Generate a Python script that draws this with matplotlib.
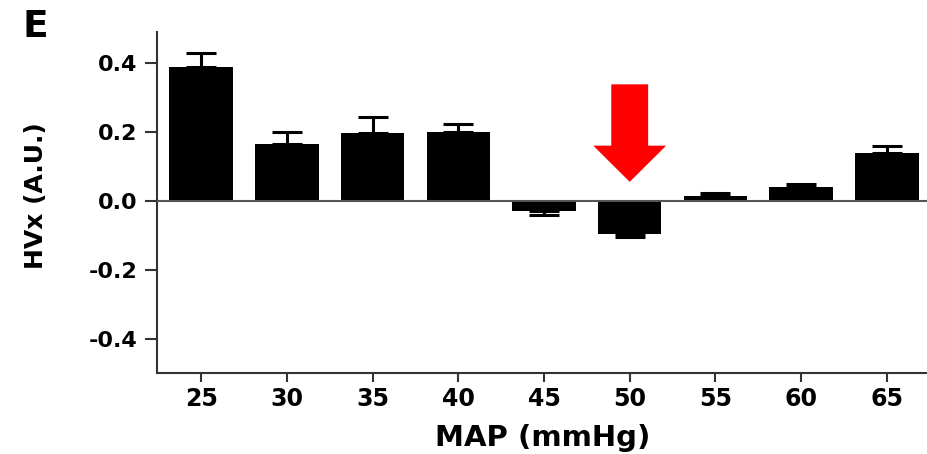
import numpy as np
import matplotlib.pyplot as plt

# Values
map_levels = ['25', '30', '35', '40', '45', '50', '55', '60', '65']
hvx_mean = [0.388, 0.164, 0.198, 0.201, -0.029, -0.097, 0.013, 0.041, 0.140]
hvx_err = [0.040, 0.035, 0.044, 0.022, 0.012, 0.009, 0.009, 0.009, 0.018]
arrow_level = '50'

plt.rcParams['font.family'] = ['DejaVu Sans']
plt.rcParams['font.weight'] = 'bold'

fig = plt.figure(figsize=(9.28, 4.54), dpi=100)
ax = fig.add_axes([157 / 928, 1 - 373 / 454, 1 - 157 / 928, (373 - 32) / 454])

x = np.arange(len(map_levels))
mean = np.array(hvx_mean)
err = np.array(hvx_err)
# error bars only drawn away from zero
lower = np.where(mean < 0, err, 0)
upper = np.where(mean >= 0, err, 0)

ax.bar(x, mean, width=0.74, color='black', zorder=2)
ax.errorbar(x, mean, yerr=[lower, upper], fmt='none', ecolor='black',
            elinewidth=2.2, capsize=11, capthick=2.2, zorder=1)
ax.axhline(0, color='#555555', linewidth=1.5, zorder=3)

# red arrow pointing at the 50 mmHg bar
xa = map_levels.index(arrow_level)
ax.arrow(xa, 0.338, 0, -0.283, width=0.43, head_width=0.85, head_length=0.105,
         length_includes_head=True, color='#ff0000', linewidth=0, zorder=4)

ax.set_xlim(-0.515, len(map_levels) - 0.52)
ax.set_ylim(-0.5, 0.49)
ax.set_xticks(x)
ax.set_xticklabels(map_levels)
ax.set_yticks([-0.4, -0.2, 0.0, 0.2, 0.4])
ax.set_yticklabels(['-0.4', '-0.2', '0.0', '0.2', '0.4'])

for side in ['top', 'right']:
    ax.spines[side].set_visible(False)
for side in ['left', 'bottom']:
    ax.spines[side].set_linewidth(1.5)
    ax.spines[side].set_color('#333333')

ax.tick_params(axis='x', length=6.5, width=1.5, pad=3.5, labelsize=17, color='#333333')
ax.tick_params(axis='y', length=9, width=1.5, pad=5, labelsize=16, color='#333333')

ax.set_xlabel('MAP (mmHg)', fontsize=21, fontweight='bold')
ax.set_ylabel('HVx (A.U.)', fontsize=18, fontweight='bold')
ax.xaxis.set_label_coords(0.5, -0.15)
ax.yaxis.set_label_coords(-0.142, 0.52)

fig.text(23 / 928, 1 - 37 / 454, 'E', fontsize=27, fontweight='bold',
         ha='left', va='baseline')

plt.savefig('out.png', dpi=100)
plt.close()
